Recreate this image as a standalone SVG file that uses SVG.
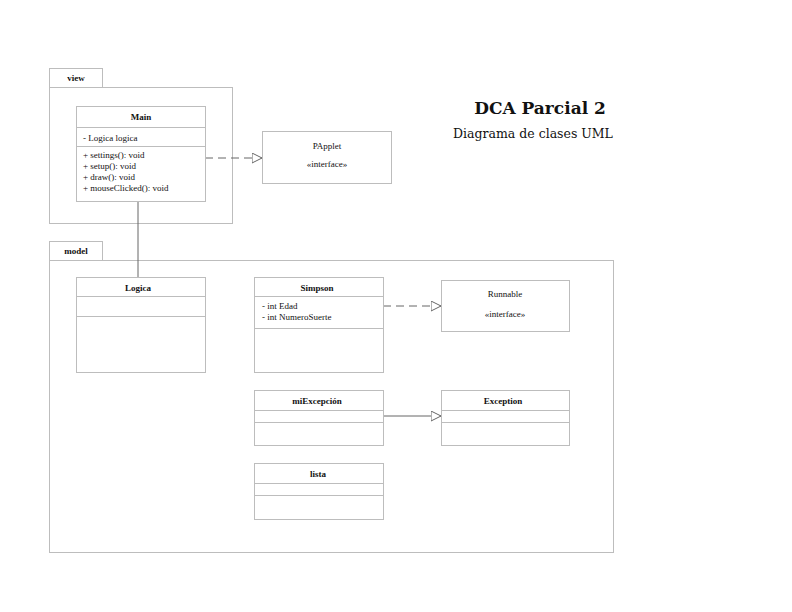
<svg xmlns="http://www.w3.org/2000/svg" width="792" height="612" viewBox="0 0 792 612">
<defs>
<marker id="tri" markerWidth="12" markerHeight="12" refX="10" refY="5" orient="auto" markerUnits="userSpaceOnUse">
<path d="M0,0 L10,5 L0,10 Z" fill="#fff" stroke="#666" stroke-width="1"/>
</marker>
<style>
.box{fill:#fff;stroke:#bdbdbd;stroke-width:1}
.pkg{fill:none;stroke:#bdbdbd;stroke-width:1}
.sep{stroke:#bdbdbd;stroke-width:1}
text{font-family:"Liberation Serif","DejaVu Serif",serif;fill:#111}
.name{font-size:9px;font-weight:bold;text-anchor:middle}
.mem{font-size:9px}
.c{text-anchor:middle}
.ttl{font-family:"DejaVu Serif","Liberation Serif",serif}
.con{fill:none;stroke:#666;stroke-width:1}
</style>
</defs>
<rect width="792" height="612" fill="#fff"/>
<g id="pkg-view">
<rect class="pkg" x="49.5" y="68.5" width="53" height="19"/>
<rect class="pkg" x="49.5" y="87.5" width="183" height="136"/>
<text class="name" x="76" y="81" font-size="8.5">view</text>
</g>
<g id="pkg-model">
<rect class="pkg" x="49.5" y="241.5" width="53" height="19"/>
<rect class="pkg" x="49.5" y="260.5" width="564" height="292"/>
<text class="name" x="76" y="254" font-size="8.5">model</text>
</g>
<g id="title">
<text class="ttl" x="540" y="114" text-anchor="middle" font-size="17" font-weight="bold">DCA Parcial 2</text>
<text class="ttl" x="533" y="138" text-anchor="middle" font-size="12.5">Diagrama de clases UML</text>
</g>
<g id="connectors">
<line class="con" x1="205" y1="158" x2="262" y2="158" stroke-dasharray="8,5" marker-end="url(#tri)"/>
<line class="con" x1="138" y1="201" x2="138" y2="277"/>
<line class="con" x1="383" y1="306" x2="441" y2="306" stroke-dasharray="8,5" marker-end="url(#tri)"/>
<line class="con" x1="383" y1="416" x2="441" y2="416" marker-end="url(#tri)"/>
</g>
<g id="Main">
<rect class="box" x="76.5" y="106.5" width="129" height="95"/>
<line class="sep" x1="76.5" y1="127.5" x2="205.5" y2="127.5"/>
<line class="sep" x1="76.5" y1="146.5" x2="205.5" y2="146.5"/>
<text class="name" x="141" y="120">Main</text>
<text class="mem" x="83" y="141">- Logica logica</text>
<text class="mem" x="83" y="158">+ settings(): void</text>
<text class="mem" x="83" y="169">+ setup(): void</text>
<text class="mem" x="83" y="180">+ draw(): void</text>
<text class="mem" x="83" y="191">+ mouseClicked(): void</text>
</g>
<g id="PApplet">
<rect class="box" x="262.5" y="131.5" width="129" height="52"/>
<text class="mem c" x="327" y="149">PApplet</text>
<text class="mem c" x="327" y="167" font-size="8">«interface»</text>
</g>
<g id="Logica">
<rect class="box" x="76.5" y="277.5" width="129" height="95"/>
<line class="sep" x1="76.5" y1="296.5" x2="205.5" y2="296.5"/>
<line class="sep" x1="76.5" y1="316.5" x2="205.5" y2="316.5"/>
<text class="name" x="138" y="291">Logica</text>
</g>
<g id="Simpson">
<rect class="box" x="254.5" y="277.5" width="129" height="95"/>
<line class="sep" x1="254.5" y1="296.5" x2="383.5" y2="296.5"/>
<line class="sep" x1="254.5" y1="328.5" x2="383.5" y2="328.5"/>
<text class="name" x="317" y="291">Simpson</text>
<text class="mem" x="262" y="309">- int Edad</text>
<text class="mem" x="262" y="320">- int NumeroSuerte</text>
</g>
<g id="Runnable">
<rect class="box" x="441.5" y="280.5" width="128" height="51"/>
<text class="mem c" x="505" y="297">Runnable</text>
<text class="mem c" x="505" y="317" font-size="8">«interface»</text>
</g>
<g id="miExcepcion">
<rect class="box" x="254.5" y="390.5" width="129" height="55"/>
<line class="sep" x1="254.5" y1="410.5" x2="383.5" y2="410.5"/>
<line class="sep" x1="254.5" y1="422.5" x2="383.5" y2="422.5"/>
<text class="name" x="317" y="404">miExcepción</text>
</g>
<g id="Exception">
<rect class="box" x="441.5" y="390.5" width="128" height="55"/>
<line class="sep" x1="441.5" y1="410.5" x2="569.5" y2="410.5"/>
<line class="sep" x1="441.5" y1="422.5" x2="569.5" y2="422.5"/>
<text class="name" x="503" y="404">Exception</text>
</g>
<g id="lista">
<rect class="box" x="254.5" y="463.5" width="129" height="56"/>
<line class="sep" x1="254.5" y1="483.5" x2="383.5" y2="483.5"/>
<line class="sep" x1="254.5" y1="495.5" x2="383.5" y2="495.5"/>
<text class="name" x="318" y="477">lista</text>
</g>
</svg>
